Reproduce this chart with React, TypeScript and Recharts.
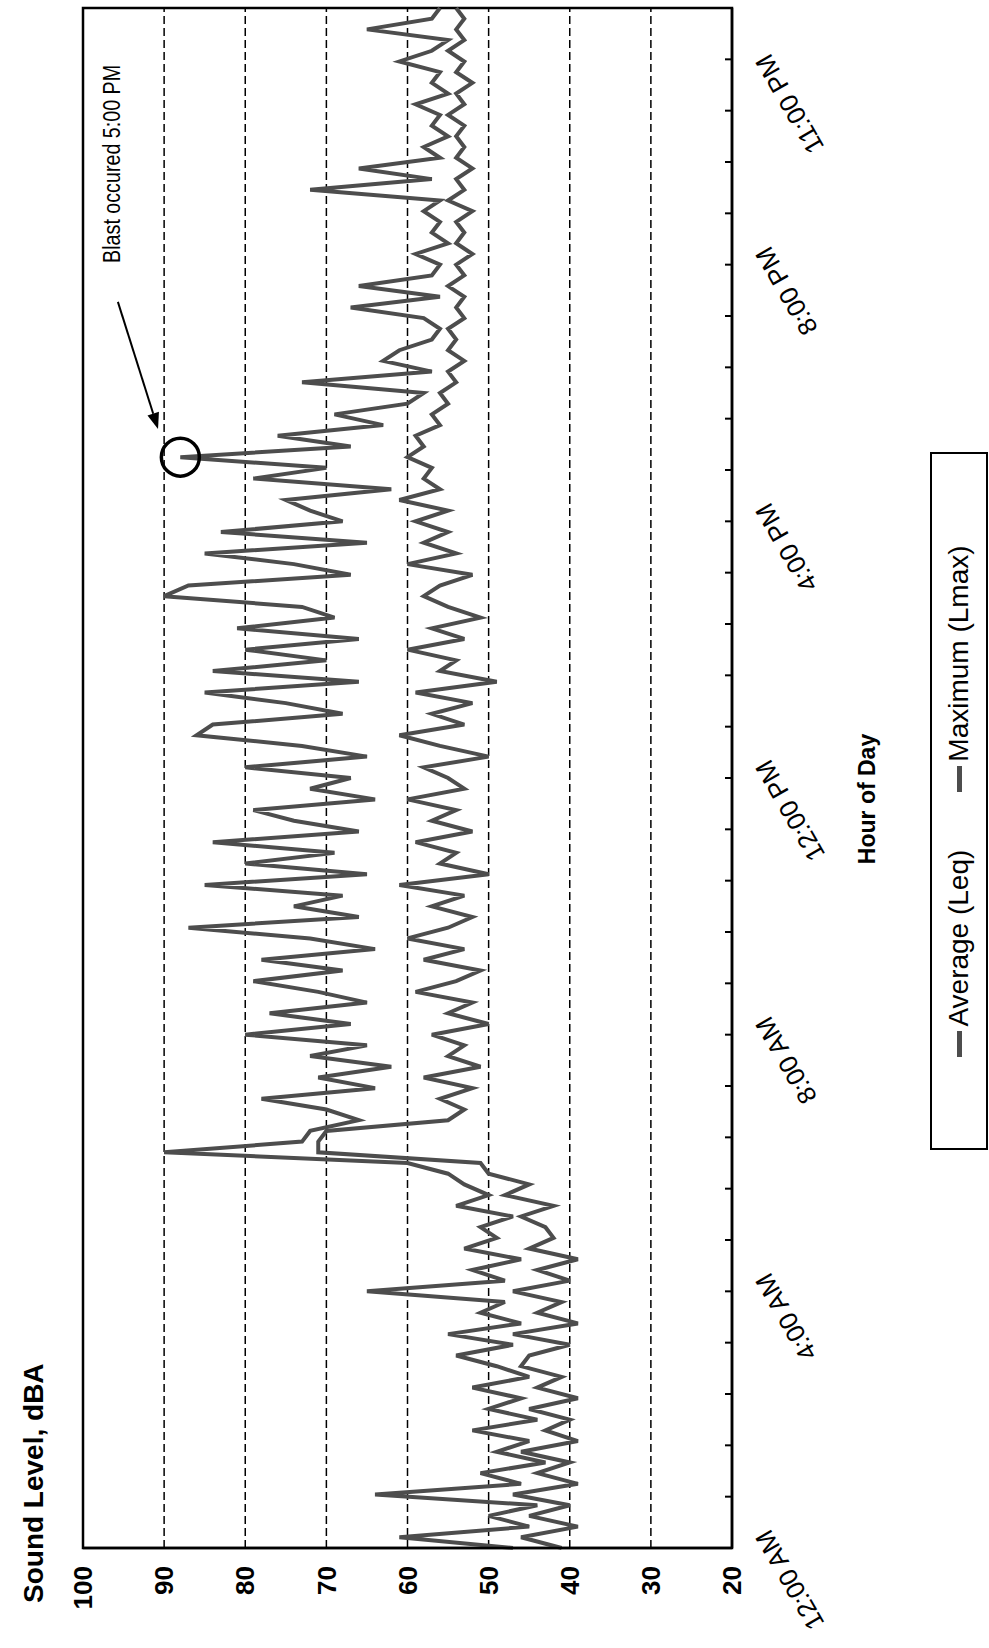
import React from 'react';
import {
  LineChart,
  Line,
  XAxis,
  YAxis,
  CartesianGrid,
  ReferenceArea,
  ReferenceDot,
  ReferenceLine,
} from 'recharts';

// one value every 10 minutes, 12:00 AM .. 12:00 AM next day (one row per hour)
const leq = [
  41, 46, 39, 45, 40, 47,
  39, 44, 40, 46, 39, 43,
  40, 45, 39, 44, 41, 46,
  45, 40, 47, 39, 44, 41,
  47, 40, 44, 39, 45, 42,
  43, 46, 42, 48, 45, 50,
  51, 71, 71, 70, 55, 53,
  56, 52, 58, 51, 55, 53,
  57, 50, 55, 52, 59, 54,
  51, 58, 53, 60, 55, 52,
  57, 53, 61, 50, 56, 54,
  59, 52, 57, 54, 60, 53,
  55, 58, 50, 56, 61, 53,
  57, 52, 59, 49, 56, 54,
  60, 53, 57, 51, 55, 58,
  56, 52, 60, 54, 58, 55,
  59, 55, 61, 56, 58, 57,
  60, 58, 59, 56, 57, 55,
  56, 54, 55, 53, 55, 54,
  55, 53, 54, 53, 55, 53,
  54, 52, 54, 53, 54, 52,
  55, 53, 54, 52, 54, 53,
  54, 53, 55, 53, 54, 52,
  54, 53, 55, 53, 54, 53,
  54,
];

const lmax = [
  47, 61, 45, 50, 44, 64,
  46, 51, 43, 49, 45, 52,
  44, 50, 46, 52, 45, 49,
  54, 47, 55, 46, 51, 48,
  65, 48, 52, 46, 53, 49,
  51, 47, 54, 50, 53, 55,
  60, 90, 73, 72, 66, 70,
  78, 64, 71, 62, 72, 65,
  80, 67, 77, 65, 71, 79,
  68, 78, 64, 72, 87, 66,
  74, 68, 85, 65, 80, 69,
  84, 66, 74, 79, 64, 72,
  67, 80, 65, 73, 86, 84,
  68, 75, 85, 66, 84, 70,
  80, 66, 81, 69, 73, 90,
  87, 67, 74, 85, 65, 83,
  68, 72, 75, 62, 79, 70,
  88, 67, 76, 63, 69, 60,
  58, 73, 57, 63, 61, 57,
  56, 58, 67, 56, 66, 57,
  56, 59, 55, 57, 56, 58,
  56, 72, 57, 66, 56, 58,
  55, 57, 56, 59, 55, 57,
  56, 61, 57, 55, 65, 57,
  56,
];

const levelTicks = [20, 30, 40, 50, 60, 70, 80, 90, 100];
const labelHours = [0, 4, 8, 12, 16, 20, 23];
const timeLabels = ['12:00 AM', '4:00 AM', '8:00 AM', '12:00 PM', '4:00 PM', '8:00 PM', '11:00 PM'];
const seriesNames = ['Average (Leq)', 'Maximum (Lmax)'];

const blast = { hour: 17, level: 88 };
const arrowTail = { hour: 19.42, level: 95.7 };
const arrowHead = { hour: 17.44, level: 90.75 };

const data = leq.map((v, i) => ({ t: i / 6, leq: v, lmax: lmax[i] }));
const minorTicks = Array.from({ length: 31 }, (_, k) => Math.round(k * 80) / 100);
const xTicks = Array.from(new Set([...minorTicks, ...labelHours])).sort((a, b) => a - b);

const FONT = '"Liberation Sans", Arial, sans-serif';
const LINE = '#4d4d4d';

const TimeTick = (props: any) => {
  const { x, y, payload } = props;
  const v = payload.value;
  const idx = labelHours.indexOf(v);
  const minor = minorTicks.some((m) => Math.abs(m - v) < 1e-6);
  const lx = x + 20;
  const ly = y + 38;
  return (
    <g>
      {minor && <line x1={x} y1={y} x2={x} y2={y - 7} stroke="#000" strokeWidth={2} />}
      {idx >= 0 && (
        <text x={lx} y={ly} textAnchor="end" fontSize={26} fill="#000" transform={`rotate(-30, ${lx}, ${ly})`}>
          {timeLabels[idx]}
        </text>
      )}
    </g>
  );
};

const ArrowNote = (props: any) => {
  const { x1, y1, x2, y2 } = props;
  const a = Math.atan2(y2 - y1, x2 - x1);
  const len = 16;
  const w = 6;
  const bx = x2 - len * Math.cos(a);
  const by = y2 - len * Math.sin(a);
  const p1 = `${x2},${y2}`;
  const p2 = `${bx + w * Math.sin(a)},${by - w * Math.cos(a)}`;
  const p3 = `${bx - w * Math.sin(a)},${by + w * Math.cos(a)}`;
  return (
    <g>
      <line x1={x1} y1={y1} x2={bx} y2={by} stroke="#000" strokeWidth={2} />
      <polygon points={`${p1} ${p2} ${p3}`} fill="#000" />
      <text x={x1 + 39} y={y1 + 2} fontSize={23} fill="#000" textLength={198} lengthAdjust="spacingAndGlyphs">
        Blast occured 5:00 PM
      </text>
    </g>
  );
};

export default function App() {
  return (
    <>
      <style>{'body{margin:0;overflow:hidden;background:#fff}'}</style>
      <div
        style={{
          position: 'absolute',
          left: 0,
          top: 0,
          width: 1648,
          height: 989,
          background: '#fff',
          fontFamily: FONT,
          transformOrigin: '0 0',
          transform: 'translate(0px, 1648px) rotate(-90deg)',
        }}
      >
        <LineChart
          width={1648}
          height={989}
          data={data}
          margin={{ top: 83, right: 8, bottom: 0, left: 0 }}
          style={{ fontFamily: FONT }}
        >
          <CartesianGrid vertical={false} stroke="#000" strokeWidth={1.5} strokeDasharray="8 4" />
          <XAxis
            dataKey="t"
            type="number"
            domain={[0, 24]}
            ticks={xTicks}
            interval={0}
            height={257}
            tickSize={0}
            tickMargin={0}
            tickLine={false}
            axisLine={{ stroke: '#000', strokeWidth: 2.5 }}
            tick={TimeTick}
            label={{ value: 'Hour of Day', position: 'insideBottom', offset: 114, dx: -21, fontSize: 23, fontWeight: 700, fill: '#000' }}
          />
          <YAxis
            domain={[20, 100]}
            ticks={levelTicks}
            interval={0}
            width={100}
            tickLine={false}
            tickMargin={12}
            axisLine={{ stroke: '#000', strokeWidth: 2.5 }}
            tick={{ fontSize: 26, fontWeight: 700, fill: '#000' }}
          />
          <ReferenceArea x1={0} x2={24} y1={20} y2={100} fill="none" stroke="#000" strokeWidth={2.5} ifOverflow="visible" />
          <Line type="linear" dataKey="leq" name={seriesNames[0]} stroke={LINE} strokeWidth={4} dot={false} isAnimationActive={false} />
          <Line type="linear" dataKey="lmax" name={seriesNames[1]} stroke={LINE} strokeWidth={4} dot={false} isAnimationActive={false} />
          <ReferenceDot x={blast.hour} y={blast.level} r={19} fill="none" stroke="#000" strokeWidth={3.5} ifOverflow="visible" />
          <ReferenceLine
            segment={[
              { x: arrowTail.hour, y: arrowTail.level },
              { x: arrowHead.hour, y: arrowHead.level },
            ]}
            ifOverflow="visible"
            shape={ArrowNote}
          />
        </LineChart>
        <div style={{ position: 'absolute', left: 45, top: 20, fontSize: 28, fontWeight: 700, lineHeight: 1, color: '#000' }}>
          Sound Level, dBA
        </div>
        <div
          style={{
            position: 'absolute',
            left: 498,
            top: 930,
            width: 698,
            height: 58,
            boxSizing: 'border-box',
            border: '2px solid #000',
            display: 'flex',
            alignItems: 'center',
            justifyContent: 'center',
            gap: 58,
            fontSize: 28,
            color: '#000',
          }}
        >
          {seriesNames.map((n) => (
            <div key={n} style={{ display: 'flex', alignItems: 'center' }}>
              <span style={{ display: 'inline-block', width: 26, height: 5, background: LINE, marginRight: 4 }} />
              {n}
            </div>
          ))}
        </div>
      </div>
    </>
  );
}
